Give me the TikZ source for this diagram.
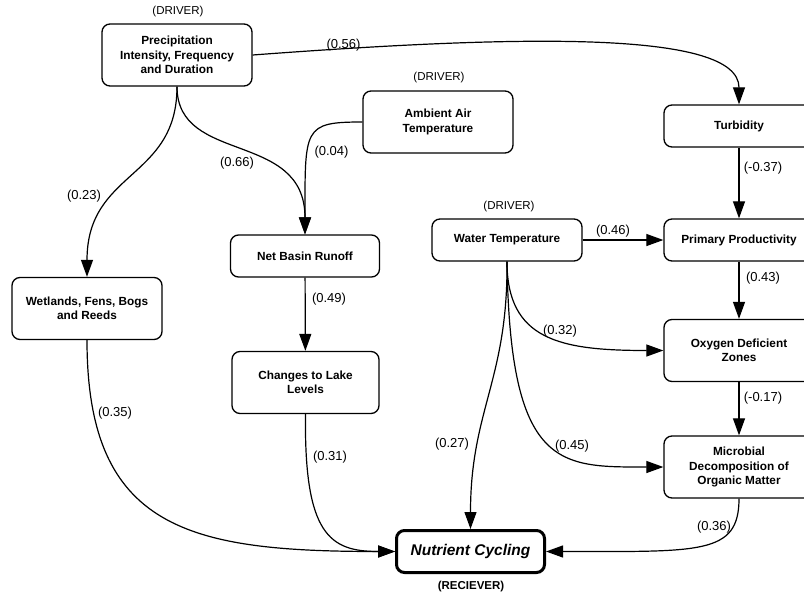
\documentclass[tikz,border=0pt]{standalone}
\usepackage{fontspec}
\setmainfont{Liberation Sans}
\usetikzlibrary{arrows.meta}
\begin{document}
\begin{tikzpicture}[x=1pt,y=-1pt,
  box/.style={draw, line width=1.3pt, rounded corners=8pt, align=center,
    minimum width=150pt, minimum height=42pt, inner sep=2pt,
    font=\bfseries\fontsize{11.8}{14.5}\selectfont},
  tall/.style={minimum height=62pt},
  link/.style={line width=1.2pt, -{Triangle[length=17pt,width=12pt]}},
  coef/.style={font=\fontsize{13}{15}\selectfont, inner sep=0pt},
  role/.style={font=\fontsize{11.5}{13}\selectfont, inner sep=0pt}]

\useasboundingbox (0,0) rectangle (804,597);

% factors
\node[box,tall] (precip) at (177,55) {Precipitation\\Intensity, Frequency\\and Duration};
\node[box,tall] (air) at (438,122) {Ambient Air\\Temperature};
\node[box] (turb) at (739,126) {Turbidity};
\node[box] (water) at (507,240) {Water Temperature};
\node[box] (prim) at (739,240) {Primary Productivity};
\node[box,minimum width=149pt] (runoff) at (305,256) {Net Basin Runoff};
\node[box,tall] (wet) at (87,308.5) {Wetlands, Fens, Bogs\\and Reeds};
\node[box,tall,minimum width=147pt] (lake) at (305.5,382.5) {Changes to Lake\\Levels};
\node[box,tall] (oxy) at (739,350.5) {Oxygen Deficient\\Zones};
\node[box,tall] (micro) at (739,467) {Microbial\\Decomposition of\\Organic Matter};
\node[box, line width=3pt, minimum width=148pt, minimum height=42pt,
  font=\bfseries\itshape\fontsize{15.5}{18}\selectfont] (nutr) at (470.5,551.5) {Nutrient Cycling};

% roles
\node[role] (d1) at (178,12) {(DRIVER)};
\node[role] (d2) at (439,78) {(DRIVER)};
\node[role] (d3) at (509,207) {(DRIVER)};
\node[role, font=\bfseries\fontsize{11.5}{13}\selectfont] (rcv) at (471,587) {(RECIEVER)};

% influences
\draw[link] (precip.east) .. controls (520,35) and (739,30) .. (turb.north);
\draw[link] (precip.south) .. controls (177,180) and (87,170) .. (wet.north);
\draw[link] (precip.south) .. controls (177,165) and (305,130) .. (runoff.north);
\draw[link] (air.west) .. controls (303,122) and (305,128) .. (runoff.north);
\draw[link] (runoff) -- (lake);
\draw[link] (wet.south) .. controls (87,530) and (190,551.5) .. (nutr.west);
\draw[link] (lake.south) .. controls (304,535) and (330,551.5) .. (nutr.west);
\draw[link] (turb) -- (prim);
\draw[link] (water) -- (prim);
\draw[link] (prim) -- (oxy);
\draw[link] (oxy) -- (micro);
\draw[link] (water.south) .. controls (507,340) and (560,350.5) .. (oxy.west);
\draw[link] (water.south) .. controls (510,470) and (560,467) .. (micro.west);
\draw[link] (water.south) .. controls (508,380) and (470.5,410) .. (nutr.north);
\draw[link] (micro.south) .. controls (739,555) and (700,551.5) .. (nutr.east);

% path coefficients
\node[coef] (c1) at (343.5,45) {(0.56)};
\node[coef] (c2) at (84,196) {(0.23)};
\node[coef] (c3) at (237,163) {(0.66)};
\node[coef] (c4) at (331.5,152) {(0.04)};
\node[coef] (c5) at (329,299) {(0.49)};
\node[coef] (c6) at (115,413) {(0.35)};
\node[coef] (c7) at (330,457) {(0.31)};
\node[coef] (c8) at (763,168) {(-0.37)};
\node[coef] (c9) at (613,231) {(0.46)};
\node[coef] (c10) at (763,278) {(0.43)};
\node[coef] (c11) at (560,331) {(0.32)};
\node[coef] (c12) at (763,398) {(-0.17)};
\node[coef] (c13) at (452,444) {(0.27)};
\node[coef] (c14) at (572,446) {(0.45)};
\node[coef] (c15) at (714,527) {(0.36)};
\end{tikzpicture}
\end{document}
